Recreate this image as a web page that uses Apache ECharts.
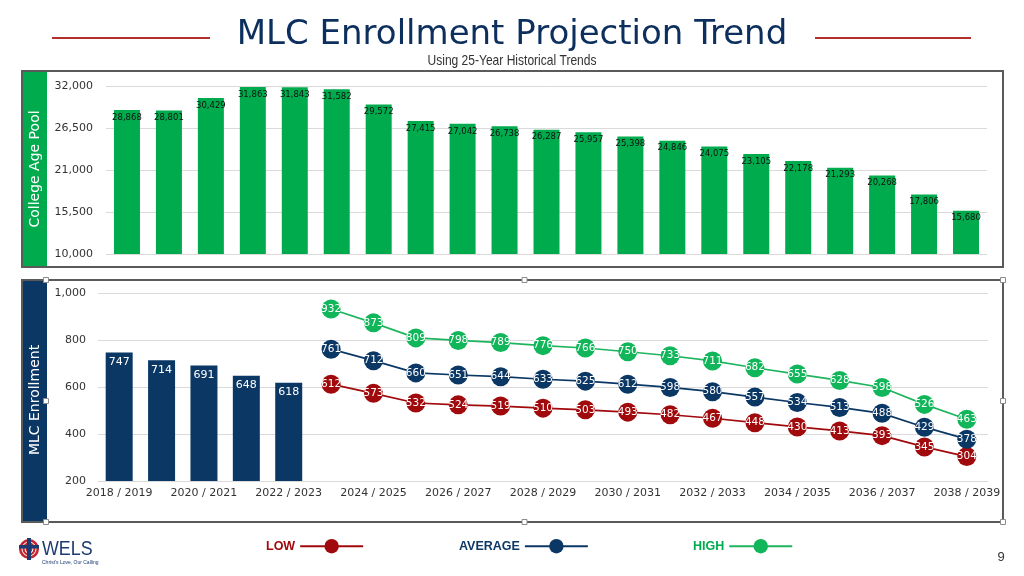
<!DOCTYPE html>
<html>
<head>
<meta charset="utf-8">
<script src="https://cdn.jsdelivr.net/npm/echarts@6/dist/echarts.min.js"></script>
<style>
html,body{margin:0;padding:0;background:#fff;}
#chart{width:1024px;height:576px;}
</style>
</head>
<body>
<div id="chart"></div>
<script>
const years = ['2018 / 2019','2019 / 2020','2020 / 2021','2021 / 2022','2022 / 2023','2023 / 2024','2024 / 2025','2025 / 2026','2026 / 2027','2027 / 2028','2028 / 2029','2029 / 2030','2030 / 2031','2031 / 2032','2032 / 2033','2033 / 2034','2034 / 2035','2035 / 2036','2036 / 2037','2037 / 2038','2038 / 2039'];
const collegeAgePool = [28868,28801,30429,31863,31843,31582,29572,27415,27042,26738,26287,25957,25398,24846,24075,23105,22178,21293,20268,17806,15680];
const actualEnrollment = [747,714,691,648,618,null,null,null,null,null,null,null,null,null,null,null,null,null,null,null,null];
const lowProj = [null,null,null,null,null,612,573,532,524,519,510,503,493,482,467,448,430,413,393,345,304];
const avgProj = [null,null,null,null,null,761,712,660,651,644,633,625,612,598,580,557,534,513,488,429,378];
const highProj = [null,null,null,null,null,932,873,809,798,789,776,766,750,733,711,682,655,628,598,526,463];
const poolTicks = {min:10000, max:32000, interval:5500};
const enrollTicks = {min:200, max:1000, interval:200};

const GREEN = '#00AB4E', NAVY = '#0B3765', RED = '#A10A0C', LGREEN = '#12B65A';
const FONT = 'DejaVu Sans';
const SANS = '"Liberation Sans", Arial, sans-serif';

const chart = echarts.init(document.getElementById('chart'), null, {renderer:'canvas'});

function handle(x, y) {
  return {type:'rect', shape:{x:x-2.5, y:y-2.5, width:5, height:5}, style:{fill:'#fff', stroke:'#8c8c8c', lineWidth:1}, z:100};
}

const lineSeries = (name, data, color, mcolor) => ({
  name, type:'line', xAxisIndex:1, yAxisIndex:1, data,
  symbol:'circle', symbolSize:19, connectNulls:false,
  lineStyle:{color, width:1.7},
  itemStyle:{color:mcolor},
  label:{show:true, position:'inside', color:'#fff', fontSize:10.5, fontFamily:FONT},
  emphasis:{disabled:true},
  z:3
});

const legendBase = (name, left, color) => ({
  data:[name], left, top:534, orient:'horizontal', align:'right',
  itemWidth:63, itemHeight:18, itemGap:0,
  textStyle:{color, fontWeight:'bold', fontSize:12.5, fontFamily:SANS},
  selectedMode:false
});

chart.setOption({
  animation:false,
  backgroundColor:'#fff',
  legend:[legendBase('LOW',261,RED), legendBase('AVERAGE',454,NAVY), legendBase('HIGH',688,GREEN)],
  grid:[
    {left:106, right:37, top:86, height:168},
    {left:98, right:36, top:293, height:188}
  ],
  xAxis:[
    {type:'category', gridIndex:0, data:years, axisLine:{show:false}, axisTick:{show:false}, axisLabel:{show:false}},
    {type:'category', gridIndex:1, data:years, axisLine:{show:false}, axisTick:{show:false},
     axisLabel:{interval:1, color:'#333', fontSize:11, fontFamily:FONT, margin:7}}
  ],
  yAxis:[
    {type:'value', gridIndex:0, min:poolTicks.min, max:poolTicks.max, interval:poolTicks.interval,
     axisLine:{show:false}, axisTick:{show:false},
     axisLabel:{color:'#333', fontSize:11, fontFamily:FONT, margin:13, formatter:v=>v.toLocaleString('en-US')},
     splitLine:{lineStyle:{color:'#DADADA', width:1}}},
    {type:'value', gridIndex:1, min:enrollTicks.min, max:enrollTicks.max, interval:enrollTicks.interval,
     axisLine:{show:false}, axisTick:{show:false},
     axisLabel:{color:'#333', fontSize:11, fontFamily:FONT, margin:12, formatter:v=>v.toLocaleString('en-US')},
     splitLine:{lineStyle:{color:'#DADADA', width:1}}}
  ],
  series:[
    {name:'College Age Pool', type:'bar', xAxisIndex:0, yAxisIndex:0, data:collegeAgePool, barWidth:26,
     itemStyle:{color:GREEN},
     label:{show:true, position:'insideTop', distance:3, color:'#111', fontSize:8.5, fontFamily:FONT, formatter:p=>p.value.toLocaleString('en-US')},
     emphasis:{disabled:true}},
    {name:'Actual', type:'bar', xAxisIndex:1, yAxisIndex:1, data:actualEnrollment, barWidth:27,
     itemStyle:{color:NAVY},
     label:{show:true, position:'insideTop', distance:4, color:'#fff', fontSize:11, fontFamily:FONT},
     emphasis:{disabled:true}},
    lineSeries('LOW', lowProj, RED, RED),
    lineSeries('AVERAGE', avgProj, NAVY, NAVY),
    lineSeries('HIGH', highProj, '#1FB55F', LGREEN)
  ],
  graphic:[
    {type:'text', x:512, y:35, style:{text:'MLC Enrollment Projection Trend', fontSize:34, fontFamily:FONT, fill:'#0C2F5E', textAlign:'center', textVerticalAlign:'middle'}},
    {type:'line', shape:{x1:52, y1:38, x2:210, y2:38}, style:{stroke:'#B5302B', lineWidth:2}},
    {type:'line', shape:{x1:815, y1:38, x2:971, y2:38}, style:{stroke:'#B5302B', lineWidth:2}},
    {type:'text', x:512, y:61, scaleX:0.83, style:{text:'Using 25-Year Historical Trends', fontSize:14.5, fontFamily:SANS, fill:'#333', textAlign:'center', textVerticalAlign:'middle'}},
    // top panel
    {type:'rect', shape:{x:22, y:71, width:25, height:196}, style:{fill:GREEN}},
    {type:'rect', shape:{x:22, y:71, width:981, height:196}, style:{fill:'none', stroke:'#5A5A5A', lineWidth:2}},
    {type:'text', x:35, y:169, rotation:Math.PI/2, style:{text:'College Age Pool', fontSize:14, fontFamily:FONT, fill:'#fff', textAlign:'center', textVerticalAlign:'middle'}},
    // bottom panel
    {type:'rect', shape:{x:22, y:280, width:25, height:242}, style:{fill:NAVY}},
    {type:'rect', shape:{x:22, y:280, width:981, height:242}, style:{fill:'none', stroke:'#5A5A5A', lineWidth:2}},
    {type:'text', x:35, y:400, rotation:Math.PI/2, style:{text:'MLC Enrollment', fontSize:14, fontFamily:FONT, fill:'#fff', textAlign:'center', textVerticalAlign:'middle'}},
    handle(46,280), handle(524.5,280), handle(1003,280),
    handle(46,401), handle(1003,401),
    handle(46,522), handle(524.5,522), handle(1003,522),
    // logo
    {type:'circle', shape:{cx:29, cy:549, r:10}, style:{fill:'#C2262E'}},
    {type:'circle', shape:{cx:29, cy:549, r:7}, style:{fill:'none', stroke:'#fff', lineWidth:1}},
    {type:'circle', shape:{cx:29, cy:549, r:4}, style:{fill:'none', stroke:'#fff', lineWidth:1}},
    {type:'rect', shape:{x:27, y:538, width:4, height:22}, style:{fill:'#1D3A73'}},
    {type:'rect', shape:{x:19, y:545, width:20, height:3.5}, style:{fill:'#1D3A73'}},
    {type:'text', x:42, y:549, scaleX:0.85, style:{text:'WELS', fontSize:21, fontFamily:SANS, fill:'#1D3A73', textVerticalAlign:'middle'}},
    {type:'text', x:42, y:563, style:{text:"Christ's Love, Our Calling", fontSize:5, fontFamily:SANS, fill:'#1D3A73', textVerticalAlign:'middle'}},
    {type:'text', x:1001, y:557, style:{text:'9', fontSize:13, fontFamily:SANS, fill:'#333', textAlign:'center', textVerticalAlign:'middle'}}
  ]
});
</script>
</body>
</html>
